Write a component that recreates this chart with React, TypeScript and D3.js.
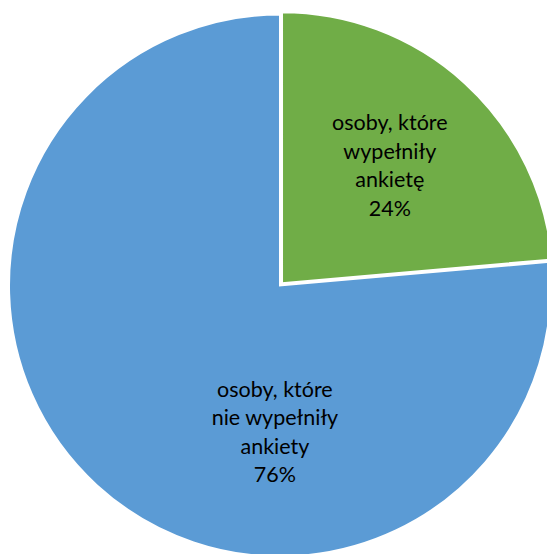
import React from 'react';
import * as d3 from 'd3';

// slice data (percent of respondents)
const categories = ['osoby, które wypełniły ankietę', 'osoby, które nie wypełniły ankiety'];
const values = [23.6, 76.4];
const labelLines = [
  ['osoby, które', 'wypełniły', 'ankietę', '24%'],
  ['osoby, które', 'nie wypełniły', 'ankiety', '76%'],
];
const colors = ['#70AD47', '#5B9BD5'];

const App: React.FC = () => {
  const width = 547;
  const height = 554;
  const cx = 280;
  const cy = 285.5;
  const radius = 271;

  const pie = d3.pie<number>().sort(null).value(d => d)(values);
  const arc = d3.arc<d3.PieArcDatum<number>>().innerRadius(0).outerRadius(radius);

  // green slice is pulled out a little
  const explode = [3, 0];
  // label anchor: fraction of radius and angle (radians, clockwise from 12 o'clock)
  const labelPos = (i: number, d: d3.PieArcDatum<number>) => {
    if (i === 0) {
      const a = (d.startAngle + d.endAngle) / 2;
      return [Math.sin(a) * radius * 0.6, -Math.cos(a) * radius * 0.6];
    }
    const a = Math.PI + 0.035;
    return [Math.sin(a) * radius * 0.54, -Math.cos(a) * radius * 0.54];
  };

  const fontSize = 21.5;
  const lineH = 28.5;

  return (
    <svg
      width={width}
      height={height}
      style={{ position: 'absolute', left: 0, top: 0, background: '#fff' }}
    >
      <g transform={`translate(${cx},${cy})`}>
        {pie.map((d, i) => {
          const mid = (d.startAngle + d.endAngle) / 2;
          const off = explode[i];
          return (
            <path
              key={categories[i]}
              d={arc(d) || ''}
              transform={`translate(${Math.sin(mid) * off},${-Math.cos(mid) * off})`}
              fill={colors[i]}
              stroke="#fff"
              strokeWidth={2}
            />
          );
        })}
        {pie.map((d, i) => {
          const [lx, ly] = labelPos(i, d);
          const lines = labelLines[i];
          const top = ly - ((lines.length - 1) * lineH) / 2;
          return (
            <text
              key={'l' + i}
              textAnchor="middle"
              fontFamily="Lato, 'Open Sans', sans-serif"
              fontSize={fontSize}
              fill="#000"
            >
              {lines.map((t, j) => (
                <tspan key={j} x={lx} y={top + j * lineH} dy="0.35em">
                  {t}
                </tspan>
              ))}
            </text>
          );
        })}
      </g>
    </svg>
  );
};

export default App;
